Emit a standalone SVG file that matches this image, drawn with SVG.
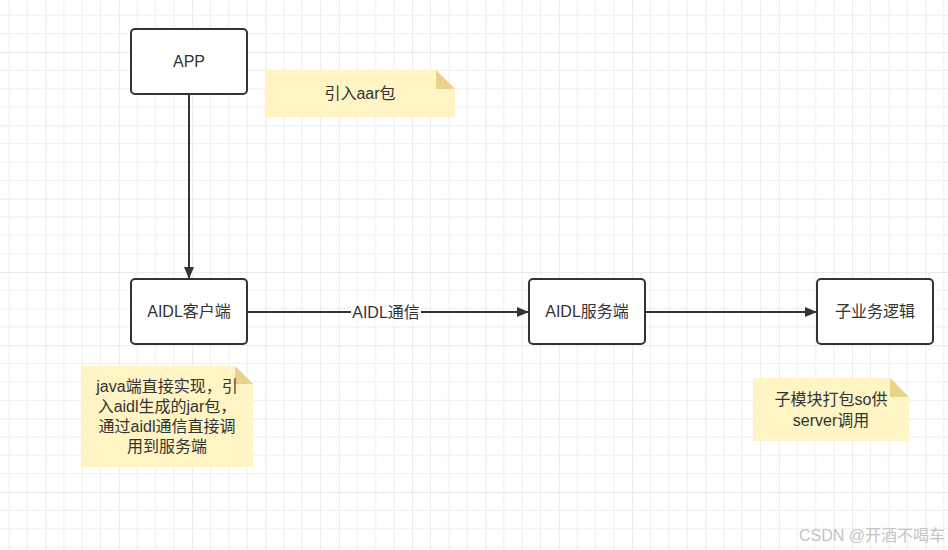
<svg xmlns="http://www.w3.org/2000/svg" width="948" height="550" viewBox="0 0 948 550">
<defs>
<pattern id="grid" patternUnits="userSpaceOnUse" x="-27.83" y="-21.33" width="73.33" height="73.33">
<path d="M18.33 0V73.33M36.67 0V73.33M55 0V73.33M0 18.33H73.33M0 36.67H73.33M0 55H73.33" stroke="#eeeeee" stroke-width="1" fill="none"/>
<path d="M0 0V73.33M0 0H73.33" stroke="#e3e3e3" stroke-width="1.5" fill="none"/>
</pattern>
<marker id="arr" viewBox="0 0 12 12" refX="12" refY="6" markerWidth="12" markerHeight="12" markerUnits="userSpaceOnUse" orient="auto">
<path d="M0 1L12 6L0 11z" fill="#333"/>
</marker>
<style>
.node rect{fill:#fff;stroke:#333;stroke-width:2}
.t{font-family:"Liberation Sans","Noto Sans CJK SC",sans-serif;font-size:16px;fill:#333;text-anchor:middle;dominant-baseline:central}
.note{fill:#fff4c3}
.fold{fill:#e8d28c}
.edge{stroke:#333;stroke-width:2;fill:none;marker-end:url(#arr)}
</style>
</defs>
<rect width="948" height="550" fill="#fff"/>
<rect width="948" height="550" fill="url(#grid)"/>
<g id="connectors">
<path class="edge" d="M189 94V279"/>
<path class="edge" d="M247 312H529"/>
<rect x="351" y="302" width="70" height="20" fill="#fff"/>
<text class="t" x="386" y="312">AIDL通信</text>
<path class="edge" d="M645 312H817"/>
</g>
<g id="app" class="node">
<rect x="131" y="29" width="116" height="65" rx="4"/>
<text class="t" x="189" y="61.5">APP</text>
</g>
<g id="client" class="node">
<rect x="131" y="279" width="116" height="65" rx="4"/>
<text class="t" x="189" y="311.5">AIDL客户端</text>
</g>
<g id="server" class="node">
<rect x="529" y="279" width="116" height="65" rx="4"/>
<text class="t" x="587" y="311.5">AIDL服务端</text>
</g>
<g id="logic" class="node">
<rect x="817" y="279" width="116" height="65" rx="4"/>
<text class="t" x="875" y="311.5">子业务逻辑</text>
</g>
<g id="note1">
<path class="note" d="M265 70H436L455 89V117H265Z"/>
<path class="fold" d="M436 70L455 89H436Z"/>
<text class="t" x="360" y="93">引入aar包</text>
</g>
<g id="note2">
<path class="note" d="M81 366H235L253 384V467H81Z"/>
<path class="fold" d="M235 366L253 384H235Z"/>
<text class="t" x="167" y="386">java端直接实现，引</text>
<text class="t" x="167" y="406">入aidl生成的jar包，</text>
<text class="t" x="167" y="426">通过aidl通信直接调</text>
<text class="t" x="167" y="446">用到服务端</text>
</g>
<g id="note3">
<path class="note" d="M753 378H890L909 397V441H753Z"/>
<path class="fold" d="M890 378L909 397H890Z"/>
<text class="t" x="831" y="399">子模块打包so供</text>
<text class="t" x="831" y="420">server调用</text>
</g>
<text x="945" y="535" font-family="Liberation Sans,'Noto Sans CJK SC',sans-serif" font-size="16" fill="#c4c4c4" text-anchor="end" dominant-baseline="central">CSDN @开酒不喝车</text>
</svg>
